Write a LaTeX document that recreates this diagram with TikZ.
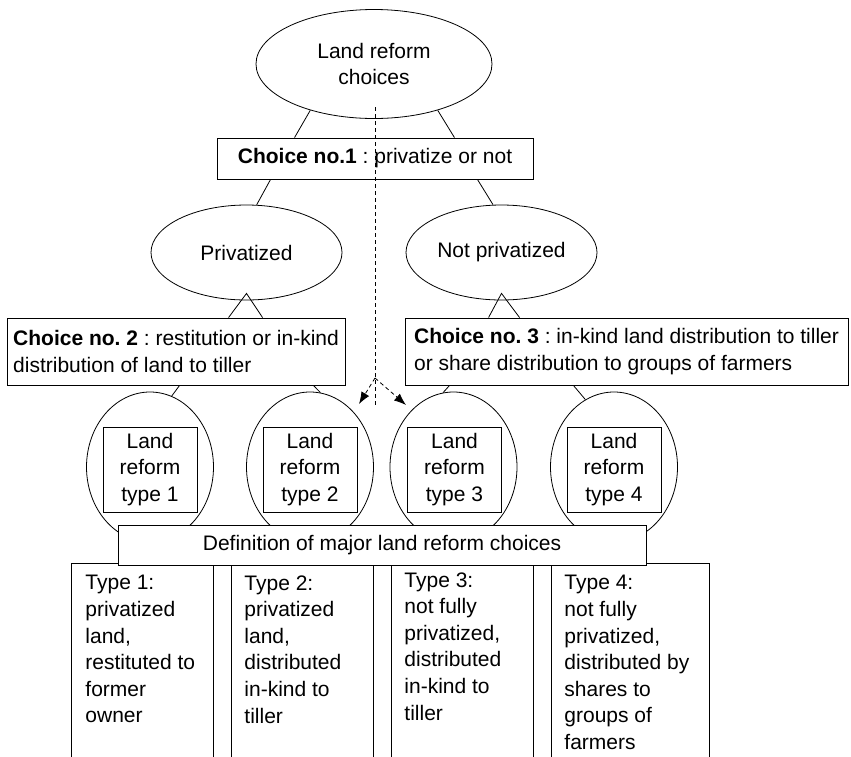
\documentclass[tikz,border=0pt]{standalone}
\usepackage{fontspec}
\setmainfont{Liberation Sans}
\usetikzlibrary{shapes.geometric,arrows.meta,calc}
\frenchspacing
\begin{document}
\frenchspacing
\begin{tikzpicture}[x=1pt,y=-1pt,
  every node/.style={font=\fontsize{21}{26.6}\selectfont\frenchspacing},
  ell/.style={draw, ellipse, line width=0.8pt, inner sep=0pt, align=center},
  box/.style={draw, rectangle, line width=0.9pt, fill=white, inner sep=0pt, align=center},
  tbox/.style={draw, rectangle, line width=0.9pt, fill=white, anchor=north west, inner xsep=13pt, inner ysep=12pt},
  ln/.style={line width=0.8pt},
  dsh/.style={line width=0.8pt, dash pattern=on 4pt off 3pt},
  tip/.style={-{Latex[length=12pt,width=9pt]}}]
\useasboundingbox (0,0) rectangle (851,756);
\clip (0,0) rectangle (851,756);

% top level
\node[ell, minimum width=236pt, minimum height=109pt] (top) at (374,64) {Land reform\\choices};
\node[box, minimum width=316pt, minimum height=41pt] (c1) at (375,158.5) {\textbf{Choice no.1} : privatize or not};
\node[ell, minimum width=191pt, minimum height=95pt] (p) at (246.5,252.5) {Privatized};
\node[ell, minimum width=191pt, minimum height=95pt] (np) at (501.5,252.5) {Not privatized};
\node[box, minimum width=338pt, minimum height=67pt, align=left] (c2) at (176,351.5) {\textbf{Choice no. 2} : restitution or in-kind\\distribution of land to tiller};
\node[box, minimum width=443pt, minimum height=67pt, align=left] (c3) at (626.5,351.5) {\textbf{Choice no. 3} : in-kind land distribution to tiller\\or share distribution to groups of farmers};

% type ellipses
\foreach \i/\x/\bx in {1/150/150, 2/310/310, 3/453.5/454.5, 4/614/614}{
  \node[ell, minimum width=127pt, minimum height=150pt] (e\i) at (\x,467) {};
  \node[box, minimum width=94pt, minimum height=85pt] (lt\i) at (\bx,469.5) {Land\\reform\\type \i};
}

% bottom definition boxes
\node[tbox, inner xsep=14pt] (t1) at (71,563) {\parbox[t][200pt][t]{114pt}{\raggedright Type 1:\\privatized\\land,\\restituted to\\former\\owner}};
\node[tbox] (t2) at (231,563) {\parbox[t][200pt][t]{116pt}{\raggedright Type 2:\\privatized\\land,\\distributed\\in-kind to\\tiller}};
\node[tbox, inner ysep=9pt] (t3) at (391,563) {\parbox[t][200pt][t]{116pt}{\raggedright Type 3:\\not fully\\privatized,\\distributed\\in-kind to\\tiller}};
\node[tbox] (t4) at (551,563) {\parbox[t][200pt][t]{132pt}{\raggedright Type 4:\\not fully\\privatized,\\distributed by\\shares to\\groups of\\farmers}};
\node[box, minimum width=528pt, minimum height=40pt] (def) at (382,545) {Definition of major land reform choices};

% connectors
\draw[ln] (top.216) -- ($(c1.north west)+(78,0)$);
\draw[ln] (top.324) -- ($(c1.north east)+(-79,0)$);
\draw[ln] ($(c1.south west)+(54,0)$) -- (p.78.5);
\draw[ln] ($(c1.south east)+(-56,0)$) -- (np.100.4);
\draw[ln] ($(c2.north west)+(222,0)$) -- ($(p.south)+(0,-7)$) -- ($(c2.north west)+(256,0)$);
\draw[ln] ($(c3.north west)+(84,0)$) -- ($(np.south)+(0,-7)$) -- ($(c3.north west)+(115,0)$);
\draw[ln] ($(c2.south west)+(173,0)$) -- (e1.73);
\draw[ln] ($(c2.south east)+(-32,0)$) -- (e2.82);
\draw[ln] ($(c3.south west)+(45,0)$) -- (e3.98);
\draw[ln] ($(c3.south east)+(-275,0)$) -- (e4.113);

% dashed arrows
\coordinate (ds) at (375,107);
\coordinate (db) at (375,378);
\coordinate (de) at (375,407);
\coordinate (al) at (359,404);
\coordinate (ar) at (406,405);
\draw[dsh] (ds) -- (de);
\draw[dsh, tip] (db) -- (al);
\draw[dsh, tip] (db) -- (ar);
\end{tikzpicture}
\end{document}
